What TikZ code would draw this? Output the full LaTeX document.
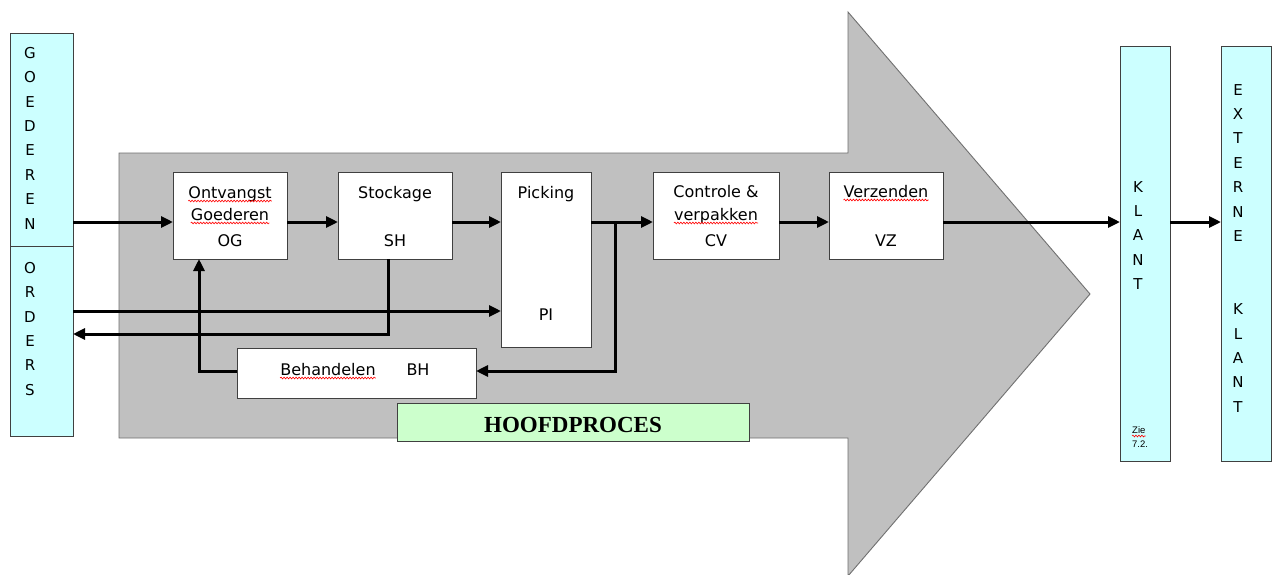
\documentclass[tikz,border=0pt]{standalone}
\usepackage{fontspec}
\newfontfamily\cfont{DejaVu Sans}
\newfontfamily\tfont{Liberation Serif}
\newfontfamily\afont{Liberation Sans}
\usetikzlibrary{arrows.meta,decorations.pathmorphing}
\definecolor{arrowgray}{HTML}{C0C0C0}
\definecolor{arrowedge}{HTML}{707070}
\definecolor{cyanbox}{HTML}{CCFFFF}
\definecolor{greenbox}{HTML}{CCFFCC}
\definecolor{edge}{HTML}{404040}
\begin{document}
\begin{tikzpicture}[x=1pt,y=-1pt,
  procbox/.style={draw=edge,line width=0.9pt,fill=white,inner sep=0,outer sep=0},
  sidebox/.style={draw=edge,line width=0.9pt,fill=cyanbox,inner sep=0,outer sep=0},
  lbl/.style={inner sep=0,anchor=base,font=\cfont\fontsize{16}{19}\selectfont},
  vlbl/.style={inner sep=0,anchor=north,align=center,font=\cfont\fontsize{15}{24.4}\selectfont},
  flow/.style={line width=3pt,-{Triangle[length=12pt,width=11pt]}},
  wavy/.style={draw=red,line width=0.6pt,decorate,decoration={snake,segment length=3pt,amplitude=0.9pt}}]
\useasboundingbox[fill=white] (0,0) rectangle (1275,574);
% big process arrow
\draw[draw=arrowedge,line width=0.9pt,fill=arrowgray] (119,153) -- (848,153) -- (848,12) -- (1090,294) -- (848,576) -- (848,438) -- (119,438) -- cycle;
% side boxes
\node[sidebox,minimum width=63pt,minimum height=213pt] (goed) at (41.5,139.5) {};
\node[sidebox,minimum width=63pt,minimum height=190pt] (ord) at (41.5,341) {};
\node[sidebox,minimum width=50pt,minimum height=415pt] (kl) at (1145,253.5) {};
\node[sidebox,minimum width=50pt,minimum height=415pt] (ext) at (1246,253.5) {};
\node[vlbl] (goedt) at (30,47) {G\\O\\E\\D\\E\\R\\E\\N};
\node[vlbl] (ordt) at (30,262) {O\\R\\D\\E\\R\\S};
\node[vlbl] (klt) at (1138,181) {K\\L\\A\\N\\T};
\node[vlbl] (extt) at (1238,84) {E\\X\\T\\E\\R\\N\\E\\[48.8pt]K\\L\\A\\N\\T};
\node[inner sep=0,anchor=base west,font=\afont\fontsize{9.5}{11}\selectfont] (zie) at (1132,433) {Zie};
\node[inner sep=0,anchor=base west,font=\afont\fontsize{9.5}{11}\selectfont] (zie2) at (1132,447) {7.2.};
% process boxes
\node[procbox,minimum width=114pt,minimum height=87pt] (og) at (230,215.5) {};
\node[procbox,minimum width=114pt,minimum height=87pt] (sh) at (395,215.5) {};
\node[procbox,minimum width=90pt,minimum height=175pt] (pi) at (546,259.5) {};
\node[procbox,minimum width=239pt,minimum height=50pt] (bh) at (356.5,373) {};
\node[procbox,minimum width=126pt,minimum height=87pt] (cv) at (716,215.5) {};
\node[procbox,minimum width=114pt,minimum height=87pt] (vz) at (886,215.5) {};
\node[draw=edge,line width=0.9pt,fill=greenbox,inner sep=0,minimum width=352pt,minimum height=38pt] (hp) at (573,422) {};
% labels
\node[lbl] (ogt1) at (230,198) {Ontvangst};
\node[lbl] (ogt2) at (230,220) {Goederen};
\node[lbl] (ogt3) at (230,246) {OG};
\node[lbl] (sht1) at (395,198) {Stockage};
\node[lbl] (sht2) at (395,246) {SH};
\node[lbl] (pit1) at (546,198) {Picking};
\node[lbl] (pit2) at (546,320) {PI};
\node[lbl] (cvt1) at (716,197) {Controle \&};
\node[lbl] (cvt2) at (716,220) {verpakken};
\node[lbl] (cvt3) at (716,246) {CV};
\node[lbl] (vzt1) at (886,197) {Verzenden};
\node[lbl] (vzt2) at (886,246) {VZ};
\node[lbl] (bht1) at (328,375) {Behandelen};
\node[lbl] (bht2) at (418,375) {BH};
\node[inner sep=0,anchor=base,font=\tfont\bfseries\fontsize{23}{26}\selectfont] (hpt) at (573,432) {HOOFDPROCES};
% spelling underlines
\foreach \n in {ogt1,ogt2,cvt2,vzt1,bht1,zie}
  \draw[wavy] ([yshift=-3pt]\n.base west) -- ([yshift=-3pt]\n.base east);
% connectors
\coordinate (my) at (0,222);
\draw[flow] (goed.east |- my) -- (og.west |- my);
\draw[flow] (og.east |- my) -- (sh.west |- my);
\draw[flow] (sh.east |- my) -- (pi.west |- my);
\draw[flow] (pi.east |- my) -- (cv.west |- my);
\draw[flow] (cv.east |- my) -- (vz.west |- my);
\draw[flow] (vz.east |- my) -- (kl.west |- my);
\draw[flow] (kl.east |- my) -- (ext.west |- my);
\coordinate (oy) at (0,311);
\draw[flow] (ord.east |- oy) -- (pi.west |- oy);
\coordinate (shx) at (388,334);
\draw[flow] (sh.south -| shx) |- (ord.east |- shx);
\coordinate (br) at (615,222);
\coordinate (by) at (0,371);
\draw[flow] (br) |- (bh.east |- by);
\coordinate (ogx) at (199,0);
\draw[flow] (bh.west |- by) -| (og.south -| ogx);
\end{tikzpicture}
\end{document}
